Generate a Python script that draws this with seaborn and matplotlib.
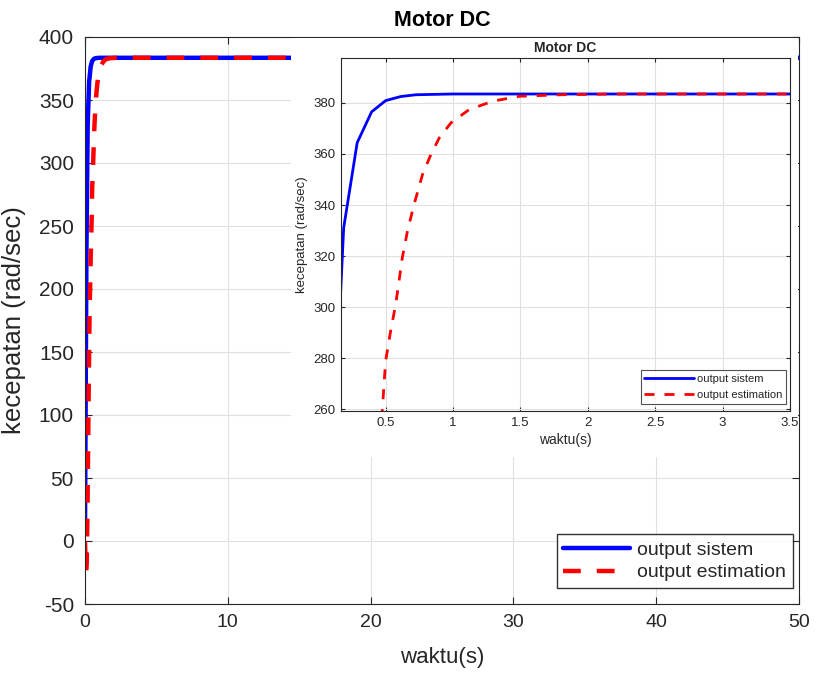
import numpy as np
import pandas as pd
import matplotlib
matplotlib.use("Agg")
import matplotlib.pyplot as plt
import seaborn as sns

# ---- data ----
t_sistem = [0.0, 0.05, 0.1, 0.169, 0.189, 0.289, 0.396, 0.5, 0.612, 0.724, 1.0, 2.0, 50.0]
y_sistem = [10.0, 120.0, 230.0, 308.9, 331.1, 364.4, 376.5, 380.9, 382.5, 383.2, 383.5, 383.5, 383.5]

t_est = [0.0, 0.03, 0.08, 0.12, 0.18, 0.25, 0.32, 0.4, 0.475, 0.5, 0.537, 0.575, 0.624,
         0.662, 0.711, 0.774, 0.836, 0.898, 0.985, 1.12, 1.296, 1.493, 1.8, 2.2, 50.0]
y_est = [0.0, -12.0, -25.0, -18.0, 30.0, 110.0, 180.0, 225.0, 259.3, 278.9, 290.6, 301.1, 319.4,
         329.8, 340.2, 352.0, 359.8, 366.3, 372.2, 377.4, 380.7, 382.6, 383.2, 383.5, 383.5]

label_sistem = "output sistem"
label_est = "output estimation"
title = "Motor DC"
xlabel = "waktu(s)"
ylabel = "kecepatan (rad/sec)"
main_xticks = [0, 10, 20, 30, 40, 50]
main_yticks = [-50, 0, 50, 100, 150, 200, 250, 300, 350, 400]
inset_xticks = [0.5, 1, 1.5, 2, 2.5, 3, 3.5]
inset_xticklabels = ["0.5", "1", "1.5", "2", "2.5", "3", "3.5"]
inset_yticks = [260, 280, 300, 320, 340, 360, 380]

df_sis = pd.DataFrame({"t": t_sistem, "y": y_sistem})
df_est = pd.DataFrame({"t": t_est, "y": y_est})

sns.set_theme(style="whitegrid")
plt.rcParams["font.family"] = ["Liberation Sans", "DejaVu Sans"]
plt.rcParams["axes.unicode_minus"] = False
TXT = "#262626"
GRID = "#e0e0e0"

W, H = 816, 677
fig = plt.figure(figsize=(W / 100, H / 100), dpi=100)
fig.patch.set_facecolor("white")


def px_axes(l, t, r, b):
    return [l / W, 1 - b / H, (r - l) / W, (b - t) / H]


def style_axes(a, fs, ticklen, pad):
    a.set_facecolor("white")
    for s in a.spines.values():
        s.set_color(TXT)
        s.set_linewidth(0.8)
        s.set_visible(True)
    a.grid(True, color=GRID, linewidth=0.8)
    a.tick_params(direction="in", length=ticklen, width=0.8, colors=TXT,
                  labelcolor=TXT, labelsize=fs, top=True, right=True,
                  bottom=True, left=True, pad=pad)


# ---- main axes ----
ax = fig.add_axes(px_axes(85, 37, 799, 604))
sns.lineplot(data=df_sis, x="t", y="y", ax=ax, color="#0000ff", linewidth=3.2,
             estimator=None, sort=False, label=label_sistem)
sns.lineplot(data=df_est, x="t", y="y", ax=ax, color="#ff0000", linewidth=3.2,
             estimator=None, sort=False, label=label_est)
ax.lines[1].set_dashes((4.0, 3.6))
ax.set_xlim(0, 50)
ax.set_ylim(-50, 400)
ax.set_xticks(main_xticks)
ax.set_yticks(main_yticks)
style_axes(ax, 15, 5, 8)
ax.tick_params(axis="x", labelsize=14, pad=7)
ax.set_xlabel(xlabel, fontsize=16, color=TXT, labelpad=12)
ax.set_ylabel(ylabel, fontsize=18.5, color=TXT, labelpad=9)
ax.set_title(title, fontsize=15.5, fontweight="bold", color="black", pad=8)
leg = ax.legend(loc="lower right", fontsize=14, frameon=True, fancybox=False,
                edgecolor="black", handlelength=3.4, borderpad=0.35,
                labelspacing=0.25, handletextpad=0.4, borderaxespad=0,
                bbox_to_anchor=(0.9916, 0.028))
leg.get_frame().set_linewidth(1.0)
for txt in leg.get_texts():
    txt.set_color(TXT)

# ---- pasted inset panel (white background) ----
panel = fig.add_axes(px_axes(291, 38, 798, 457))
panel.set_facecolor("white")
panel.set_xticks([])
panel.set_yticks([])
for s in panel.spines.values():
    s.set_visible(False)
panel.grid(False)
panel.set_zorder(5)

# ---- inset axes ----
ax2 = fig.add_axes(px_axes(341, 58, 790, 411))
ax2.set_zorder(6)
sns.lineplot(data=df_sis, x="t", y="y", ax=ax2, color="#0000ff", linewidth=2.0,
             estimator=None, sort=False, label=label_sistem)
sns.lineplot(data=df_est, x="t", y="y", ax=ax2, color="#ff0000", linewidth=2.0,
             estimator=None, sort=False, label=label_est)
ax2.lines[1].set_dashes((3.6, 3.6))
ax2.set_xlim(0.169, 3.5)
ax2.set_ylim(259.3, 397.6)
ax2.set_xticks(inset_xticks)
ax2.set_xticklabels(inset_xticklabels)
ax2.set_yticks(inset_yticks)
style_axes(ax2, 9.5, 3, 4)
ax2.set_xlabel(xlabel, fontsize=10, color=TXT, labelpad=3)
ax2.set_ylabel(ylabel, fontsize=9.5, color=TXT, labelpad=4)
ax2.set_title(title, fontsize=10, fontweight="bold", color=TXT, pad=4)
leg2 = ax2.legend(loc="lower right", fontsize=8, frameon=True, fancybox=False,
                  edgecolor="#262626", handlelength=4.5, borderpad=0.35,
                  labelspacing=0.55, handletextpad=0.2, borderaxespad=0,
                  bbox_to_anchor=(0.991, 0.02))
leg2.get_frame().set_linewidth(0.8)
for txt in leg2.get_texts():
    txt.set_color(TXT)

fig.savefig("out.png", dpi=100, facecolor="white")
